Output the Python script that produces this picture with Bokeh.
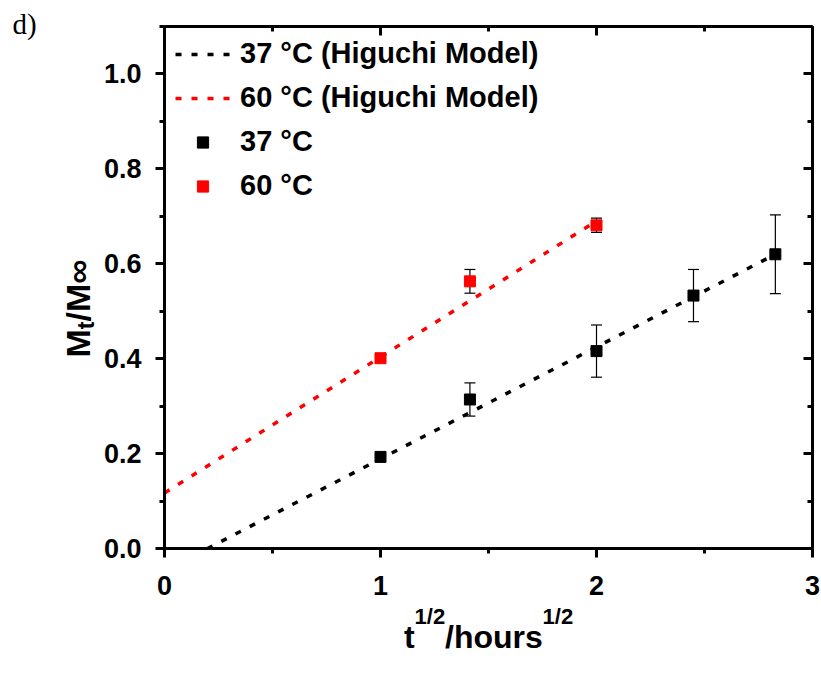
import math
from bokeh.plotting import figure
from bokeh.layouts import row, column
from bokeh.models import (LinearAxis, Range1d, Whisker, TeeHead, ColumnDataSource,
                          Legend, LegendItem, SingleIntervalTicker, PrintfTickFormatter)
from bokeh.core.properties import value
from bokeh.embed import file_html
from bokeh.resources import INLINE

# ---------------- data ----------------
t_sqrt_37 = [1.0, 1.414, 2.0, 2.449, 2.828]
mt_37 = [0.193, 0.314, 0.416, 0.533, 0.620]
err_37 = [0.005, 0.035, 0.055, 0.055, 0.083]

t_sqrt_60 = [1.0, 1.414, 2.0]
mt_60 = [0.401, 0.563, 0.681]
err_60 = [0.006, 0.025, 0.015]

fit37_x = [0.0, 2.828]
fit37_y = [-0.047, 0.620]
fit60_x = [0.0, 2.0]
fit60_y = [0.117, 0.690]

legend_labels = ["37 °C (Higuchi Model)", "60 °C (Higuchi Model)", "37 °C", "60 °C"]
x_title = [("t", "main"), ("1/2", "sup"), ("/hours", "main"), ("1/2", "sup")]
y_title = [("M", "main"), ("t", "sub"), ("/M", "main"), ("\u221e", "main")]
panel_tag = "d)"

# ---------------- layout geometry (page px) ----------------
PAGE_W, PAGE_H = 821, 672
LEFT_W = 100          # strip holding the y title and panel tag
MAIN_H = 600          # main figure height
FL, FT, FR, FB = 162, 26, 812, 548   # frame edges on the page

FONT = "Liberation Sans"
MID = 0.3465          # (ascent - descent) / 2 in em: baseline -> middle


def blank(width, height, xr, yr, bl=0, br=0):
    f = figure(width=width, height=height,
               x_range=Range1d(*xr), y_range=Range1d(*yr),
               output_backend="svg", toolbar_location=None,
               x_axis_location=None, y_axis_location=None,
               min_border=0, min_border_left=bl, min_border_right=br,
               min_border_top=0, min_border_bottom=0)
    f.outline_line_color = None
    f.xgrid.visible = False
    f.ygrid.visible = False
    f.background_fill_color = "white"
    f.border_fill_color = "white"
    return f


# ---------------- main plot ----------------
p = figure(width=PAGE_W - LEFT_W, height=MAIN_H,
           x_range=Range1d(0, 3), y_range=Range1d(0, 1.1),
           output_backend="svg", toolbar_location=None,
           min_border_left=FL - LEFT_W, min_border_top=FT,
           min_border_right=PAGE_W - FR, min_border_bottom=MAIN_H - FB)
p.outline_line_color = None
p.xgrid.visible = False
p.ygrid.visible = False
p.background_fill_color = "white"
p.border_fill_color = "white"


def style_axis(ax, inward, labels=True):
    ax.axis_line_width = 3
    ax.axis_line_color = "black"
    ax.major_tick_line_width = 3
    ax.minor_tick_line_width = 3
    ax.major_tick_line_color = "black"
    ax.minor_tick_line_color = "black"
    if inward:
        ax.major_tick_in, ax.major_tick_out = 9, 0
        ax.minor_tick_in, ax.minor_tick_out = 5, 0
    else:
        ax.major_tick_in, ax.major_tick_out = 0, 9
        ax.minor_tick_in, ax.minor_tick_out = 0, 5
    ax.major_label_text_font = FONT
    ax.major_label_text_font_style = "bold"
    ax.major_label_text_font_size = "27px"
    ax.major_label_text_color = "black" if labels else None
    ax.axis_label = None


xb = p.xaxis[0]
yl = p.yaxis[0]
xb.ticker = SingleIntervalTicker(interval=1, num_minor_ticks=2)
yl.ticker = SingleIntervalTicker(interval=0.2, num_minor_ticks=2)
xb.formatter = PrintfTickFormatter(format="%.0f")
yl.formatter = PrintfTickFormatter(format="%.1f")
style_axis(xb, False)
style_axis(yl, False)
xb.major_label_standoff = 18
yl.major_label_standoff = 14

xt = LinearAxis(ticker=SingleIntervalTicker(interval=1, num_minor_ticks=2))
yr = LinearAxis(ticker=SingleIntervalTicker(interval=0.2, num_minor_ticks=2))
style_axis(xt, True, labels=False)
style_axis(yr, True, labels=False)
xt.major_label_standoff = 0
yr.major_label_standoff = 0
p.add_layout(xt, "above")
p.add_layout(yr, "right")

l37 = p.line(fit37_x, fit37_y, line_color="black", line_width=3.5, line_dash="6 10")
l60 = p.line(fit60_x, fit60_y, line_color="#ff0000", line_width=3.5, line_dash="6 10")

src37 = ColumnDataSource(dict(x=t_sqrt_37, y=mt_37,
                              upper=[m + e for m, e in zip(mt_37, err_37)],
                              lower=[m - e for m, e in zip(mt_37, err_37)]))
src60 = ColumnDataSource(dict(x=t_sqrt_60, y=mt_60,
                              upper=[m + e for m, e in zip(mt_60, err_60)],
                              lower=[m - e for m, e in zip(mt_60, err_60)]))
for src in (src37, src60):
    p.add_layout(Whisker(source=src, base="x", upper="upper", lower="lower",
                         line_color="black", line_width=1.2, level="underlay",
                         upper_head=TeeHead(size=11, line_color="black", line_width=1.2),
                         lower_head=TeeHead(size=11, line_color="black", line_width=1.2)))

s37 = p.scatter("x", "y", source=src37, marker="square", size=11,
                fill_color="black", line_color="black")
s60 = p.scatter("x", "y", source=src60, marker="square", size=11,
                fill_color="#ff0000", line_color="#ff0000")

legend = Legend(items=[LegendItem(label=legend_labels[0], renderers=[l37]),
                       LegendItem(label=legend_labels[1], renderers=[l60]),
                       LegendItem(label=legend_labels[2], renderers=[s37]),
                       LegendItem(label=legend_labels[3], renderers=[s60])],
                location="top_left", margin=11, padding=15, spacing=11,
                glyph_width=55, glyph_height=28, label_standoff=10,
                border_line_color=None, background_fill_alpha=0,
                label_text_font=FONT, label_text_font_style="bold",
                label_text_font_size="29px", label_text_color="black")
p.add_layout(legend)

# ---------------- text widths (Arial/Liberation Sans Bold advance, 1/1000 em) -----
W = {'t': 333, '1': 556, '/': 278, '2': 556, 'h': 611, 'o': 611, 'u': 611,
     'r': 389, 's': 556, 'M': 833, '\u221e': 713}


def tw(s, size):
    return sum(W.get(c, 600) for c in s) * size / 1000.0


# ---------------- left strip: y title + panel tag (data = page px, y up) ---------
left = blank(LEFT_W, PAGE_H, (0, LEFT_W), (0, PAGE_H))
Y_SIZE = {"main": 34, "sub": 23}
cy = 357.0                      # page y where the title starts (reads upward)
for s, kind in y_title:
    size = Y_SIZE[kind]
    base_x = 89 + (4 if kind == "sub" else 0)
    left.text(x=[base_x - MID * size], y=[PAGE_H - cy], text=[s], angle=math.pi / 2,
              text_font=value(FONT), text_font_style="bold",
              text_font_size=value(f"{size}px"), text_color="black",
              text_align="left", text_baseline="middle")
    cy -= tw(s, size)
left.text(x=[12], y=[PAGE_H - (33 - 0.33 * 29)], text=[panel_tag],
          text_font=value("Liberation Serif"),
          text_font_size=value("29px"), text_color="black",
          text_align="left", text_baseline="middle")

# ---------------- bottom strip: x title (frame aligned with main frame) ----------
BOT_H = PAGE_H - MAIN_H
bottom = blank(PAGE_W - LEFT_W, BOT_H, (FL, FR), (0, BOT_H),
               bl=FL - LEFT_W, br=PAGE_W - FR)
X_SIZE = {"main": 32, "sup": 22}
total = sum(tw(s, X_SIZE[k]) for s, k in x_title)
cx = (FL + FR) / 2 - total / 2
for s, kind in x_title:
    size = X_SIZE[kind]
    base_y = 648 - (24 if kind == "sup" else 0)
    bottom.text(x=[cx], y=[PAGE_H - (base_y - MID * size)], text=[s],
                text_font=value(FONT), text_font_style="bold",
                text_font_size=value(f"{size}px"), text_color="black",
                text_align="left", text_baseline="middle")
    cx += tw(s, size)

layout = row(left, column(p, bottom))
open("out.html", "w").write(file_html(layout, INLINE))
